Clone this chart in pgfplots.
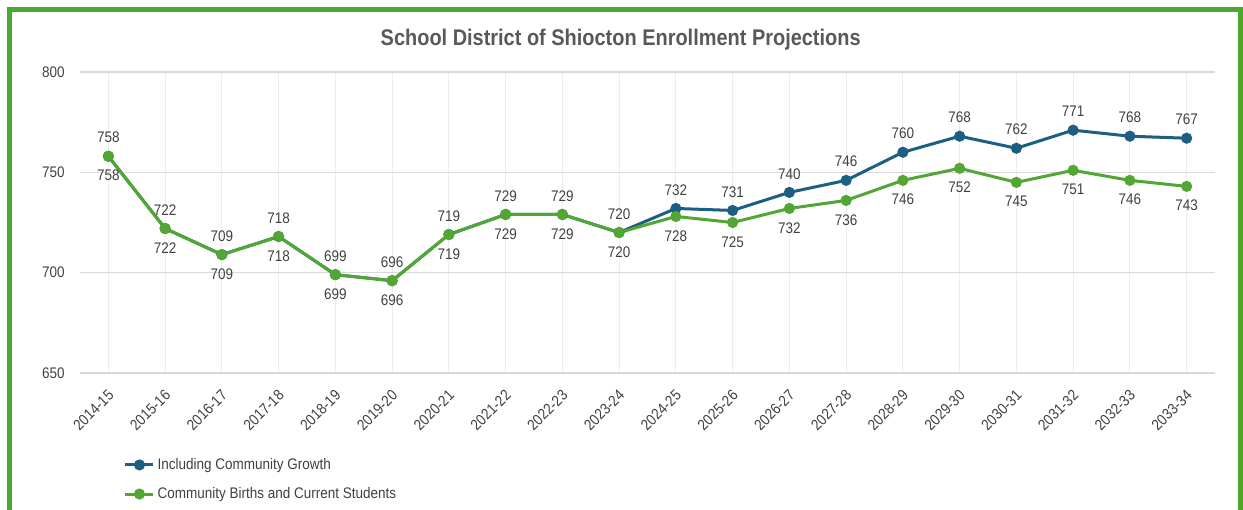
\documentclass[border=0pt]{standalone}
\usepackage{pgfplots}
\pgfplotsset{compat=1.18}
\usepackage{fontspec}
\setmainfont{Liberation Sans}[FakeStretch=0.88]
\definecolor{serblue}{HTML}{1C5F82}
\definecolor{sergreen}{HTML}{52A633}
\definecolor{framegreen}{HTML}{4EA72E}
\definecolor{labelgray}{HTML}{404040}
\definecolor{titlegray}{HTML}{595959}
\definecolor{hgrid}{HTML}{D9D9D9}
\definecolor{vgrid}{HTML}{EDEDED}
\begin{document}
\begin{tikzpicture}
\path[use as bounding box] (0,0) rectangle (932.25pt,382.5pt);
\draw[framegreen, line width=3.4pt] (7.1pt,-5pt) -- (7.1pt,375.4pt) -- (930.4pt,375.4pt) -- (930.4pt,-5pt);
\node[font=\fontsize{17}{20}\selectfont\bfseries, text=titlegray] at (465.5pt,352.5pt) {School District of Shiocton Enrollment Projections};
\begin{axis}[
    at={(60pt,102.75pt)}, anchor=south west,
    scale only axis, width=851.25pt, height=225.75pt,
    xmin=-0.5, xmax=19.5, ymin=650, ymax=800,
    ytick={650,700,750,800},
    xtick={0,...,19},
    xticklabels={2014-15,2015-16,2016-17,2017-18,2018-19,2019-20,2020-21,2021-22,2022-23,2023-24,2024-25,2025-26,2026-27,2027-28,2028-29,2029-30,2030-31,2031-32,2032-33,2033-34},
    axis line style={draw=none},
    major tick length=0pt,
    xmajorgrids, ymajorgrids,
    x grid style={draw=vgrid, line width=0.8pt},
    y grid style={draw=hgrid, line width=1pt},
    /pgf/number format/assume math mode=true,
    tick label style={font=\fontsize{11.5}{13}\selectfont, text=labelgray},
    xticklabel style={xshift=-1pt, yshift=-7pt, rotate=45, anchor=north east},
    yticklabel style={xshift=-8pt},
    nodes near coords,
    nodes near coords style={font=\fontsize{11.5}{13}\selectfont, text=labelgray, anchor=center},
    legend style={at={(0.035,-0.265)}, anchor=north west, draw=none, fill=none,
        font=\fontsize{11.5}{13}\selectfont, text=labelgray, row sep=8pt},
    legend cell align=left,
    legend image code/.code={\draw[mark repeat=2, mark phase=2] plot coordinates {(0pt,0pt) (10.5pt,0pt) (21pt,0pt)};},
]
\addplot[serblue, line width=2.25pt, mark=*, mark size=3pt,
    every node near coord/.append style={yshift=14pt}]
coordinates {
(0,758) (1,722) (2,709) (3,718) (4,699) (5,696) (6,719) (7,729) (8,729) (9,720)
(10,732) (11,731) (12,740) (13,746) (14,760) (15,768) (16,762) (17,771) (18,768) (19,767)
};
\addlegendentry{Including Community Growth}
\addplot[sergreen, line width=2.25pt, mark=*, mark size=3pt,
    every node near coord/.append style={yshift=-14.5pt}]
coordinates {
(0,758) (1,722) (2,709) (3,718) (4,699) (5,696) (6,719) (7,729) (8,729) (9,720)
(10,728) (11,725) (12,732) (13,736) (14,746) (15,752) (16,745) (17,751) (18,746) (19,743)
};
\addlegendentry{Community Births and Current Students}
\end{axis}
\end{tikzpicture}
\end{document}
